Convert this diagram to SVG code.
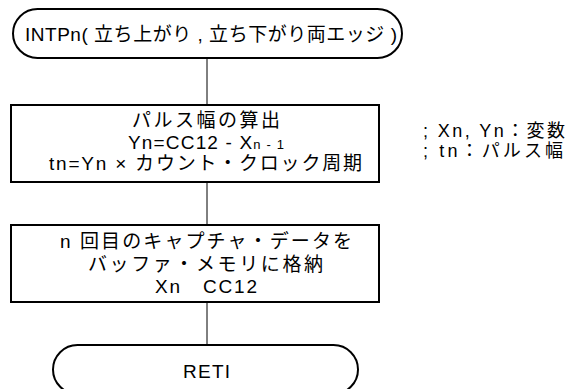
<svg xmlns="http://www.w3.org/2000/svg" width="569" height="389" viewBox="0 0 569 389">
<style>
.shape{fill:#fff;stroke:#000;stroke-width:2}
.conn{stroke:#000;stroke-width:1;fill:none}
text{font-family:"Liberation Sans","Noto Sans CJK JP",sans-serif;font-size:19px;fill:#000}
.sub{font-size:13px}
.note{font-size:18px}
</style>
<rect width="569" height="389" fill="#fff"/>
<g id="connectors">
<line class="conn" x1="207" y1="58" x2="207" y2="105"/>
<line class="conn" x1="207" y1="182" x2="207" y2="225"/>
<line class="conn" x1="207" y1="302" x2="207" y2="345"/>
</g>
<g id="start">
<rect class="shape" x="13" y="9" width="389" height="49" rx="24.5" ry="24.5"/>
<text x="25" y="41" textLength="372" lengthAdjust="spacing">INTPn( 立ち上がり , 立ち下がり両エッジ )</text>
</g>
<g id="calc">
<rect class="shape" x="11" y="105" width="368" height="77"/>
<text x="132" y="127" textLength="148" lengthAdjust="spacing">パルス幅の算出</text>
<text x="128" y="149" textLength="156" lengthAdjust="spacing">Yn=CC12 - X<tspan class="sub">n - 1</tspan></text>
<text x="49" y="170" textLength="313" lengthAdjust="spacing">tn=Yn × カウント・クロック周期</text>
</g>
<g id="store">
<rect class="shape" x="11" y="225" width="368" height="77"/>
<text x="60" y="248" textLength="292" lengthAdjust="spacing">n 回目のキャプチャ・データを</text>
<text x="88" y="271" textLength="235" lengthAdjust="spacing">バッファ・メモリに格納</text>
<text x="155" y="293" textLength="102" lengthAdjust="spacing">Xn&#160;&#160;&#160;CC12</text>
</g>
<g id="note">
<text class="note" x="423" y="137" textLength="142" lengthAdjust="spacing">; Xn, Yn：変数</text>
<text class="note" x="423" y="157" textLength="140" lengthAdjust="spacing">; tn：パルス幅</text>
</g>
<g id="end">
<rect class="shape" x="53" y="345" width="305" height="49" rx="24.5" ry="24.5"/>
<text x="183" y="378" textLength="47" lengthAdjust="spacing">RETI</text>
</g>
</svg>
